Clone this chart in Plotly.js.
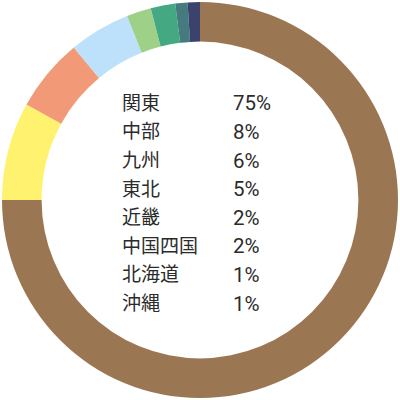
<!DOCTYPE html>
<html>
<head>
<meta charset="utf-8">
<script src="https://cdn.plot.ly/plotly-3.0.1.min.js"></script>
<style>
  html, body { margin: 0; padding: 0; background: #fff; }
  #chart { width: 400px; height: 400px; }
</style>
</head>
<body>
<div id="chart"></div>
<script>
// Regional share
const regions = ['関東', '中部', '九州', '東北', '近畿', '中国四国', '北海道', '沖縄'];
const shares = [75, 8, 6, 5, 2, 2, 1, 1];
const sliceColors = ['#9b7653', '#fef26e', '#f29a78', '#bde0fb', '#9fd088', '#44a882', '#457a7f', '#3a436d'];

const FONT = 'Roboto, "Noto Sans CJK JP", sans-serif';

// Legend inside the hole, two columns
const annotations = [];
regions.forEach((name, i) => {
    const y = 0.744 - i * 0.0722;
    annotations.push({
        xref: 'paper', yref: 'paper', x: 0.298, y: y,
        xanchor: 'left', yanchor: 'middle', showarrow: false,
        text: name, font: { family: FONT, size: 19, color: '#2b2b2b' }
    });
    annotations.push({
        xref: 'paper', yref: 'paper', x: 0.578, y: y,
        xanchor: 'left', yanchor: 'middle', showarrow: false,
        text: shares[i] + '%', font: { family: FONT, size: 20.5, color: '#2b2b2b' }
    });
});

Plotly.newPlot('chart', [{
    type: 'pie',
    labels: regions,
    values: shares,
    hole: 0.8,
    sort: false,
    direction: 'clockwise',
    rotation: 0,
    textinfo: 'none',
    hoverinfo: 'skip',
    marker: { colors: sliceColors, line: { width: 0 } }
}], {
    width: 400,
    height: 400,
    margin: { l: 2, r: 2, t: 2, b: 2 },
    paper_bgcolor: '#ffffff',
    showlegend: false,
    annotations: annotations
}, { displayModeBar: false, staticPlot: true });
</script>
</body>
</html>
